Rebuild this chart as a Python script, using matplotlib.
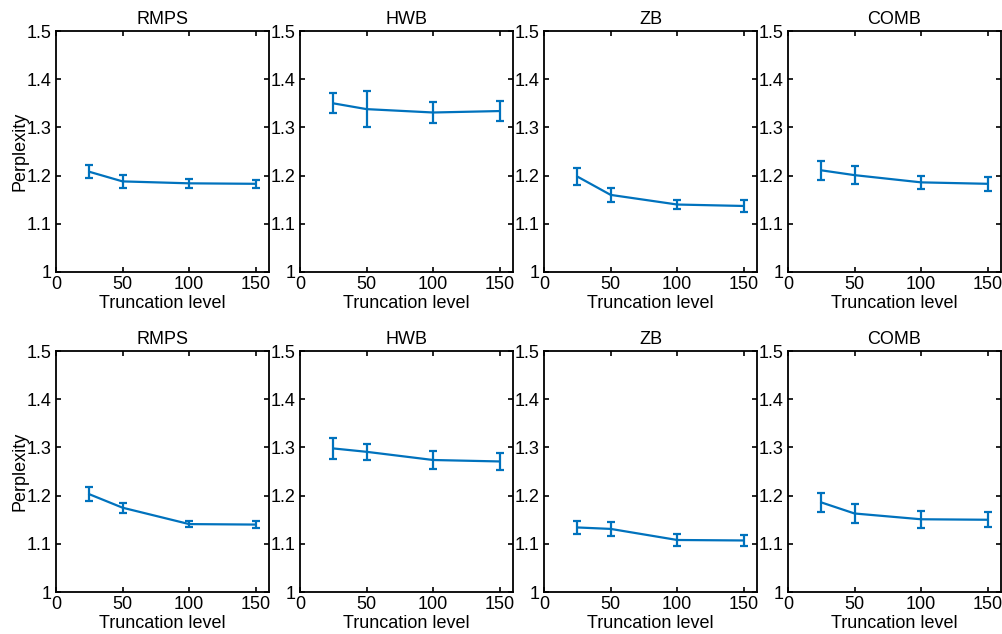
import matplotlib
matplotlib.use('Agg')
import matplotlib.pyplot as plt
from matplotlib.ticker import FuncFormatter

plt.rcParams['font.family'] = ['Liberation Sans', 'DejaVu Sans']
plt.rcParams['font.size'] = 13

levels = [25, 50, 100, 150]
methods = ['RMPS', 'HWB', 'ZB', 'COMB']

# first experiment (top row)
top_mean = {
    'RMPS': [1.208, 1.188, 1.184, 1.183],
    'HWB':  [1.350, 1.338, 1.331, 1.334],
    'ZB':   [1.198, 1.160, 1.140, 1.137],
    'COMB': [1.211, 1.201, 1.186, 1.183],
}
top_err = {
    'RMPS': [0.013, 0.013, 0.009, 0.008],
    'HWB':  [0.021, 0.038, 0.021, 0.020],
    'ZB':   [0.018, 0.015, 0.010, 0.012],
    'COMB': [0.020, 0.019, 0.014, 0.015],
}

# second experiment (bottom row)
bot_mean = {
    'RMPS': [1.203, 1.175, 1.141, 1.140],
    'HWB':  [1.298, 1.291, 1.274, 1.271],
    'ZB':   [1.134, 1.131, 1.108, 1.107],
    'COMB': [1.186, 1.163, 1.151, 1.150],
}
bot_err = {
    'RMPS': [0.015, 0.010, 0.006, 0.008],
    'HWB':  [0.021, 0.017, 0.018, 0.017],
    'ZB':   [0.014, 0.014, 0.013, 0.012],
    'COMB': [0.019, 0.019, 0.018, 0.016],
}

blue = '#0072BD'
fig = plt.figure(figsize=(10.02, 6.34), dpi=100)

lefts = [0.0559, 0.2994, 0.543, 0.7864]
bottoms = [0.571, 0.0662]
w, h = 0.2126, 0.380

fmt = FuncFormatter(lambda v, p: ('%g' % round(v, 2)))

for r, (means, errs) in enumerate([(top_mean, top_err), (bot_mean, bot_err)]):
    for c, m in enumerate(methods):
        ax = fig.add_axes([lefts[c], bottoms[r], w, h])
        ax.errorbar(levels, means[m], yerr=errs[m], color=blue, lw=1.6,
                    elinewidth=1.6, capsize=2.6, capthick=1.6)
        ax.set_xlim(0, 160)
        ax.set_ylim(1, 1.5)
        ax.set_xticks([0, 50, 100, 150])
        ax.set_yticks([1, 1.1, 1.2, 1.3, 1.4, 1.5])
        ax.yaxis.set_major_formatter(fmt)
        ax.tick_params(direction='in', top=True, right=True, length=3.5,
                       width=1.2, labelsize=13, pad=3)
        for s in ax.spines.values():
            s.set_linewidth(1.3)
        ax.set_title(m, fontsize=13, pad=5)
        ax.set_xlabel('Truncation level', fontsize=13, labelpad=1)
        if c == 0:
            ax.set_ylabel('Perplexity', fontsize=13, labelpad=-1)

fig.savefig('out.png', dpi=100)
